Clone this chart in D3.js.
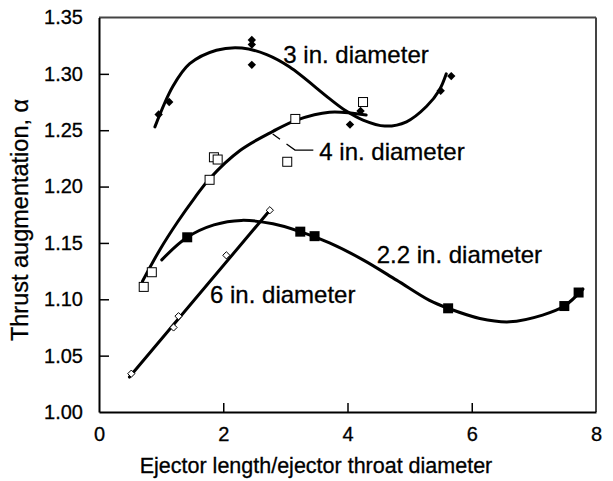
<!DOCTYPE html>
<html>
<head>
<meta charset="utf-8">
<script src="https://cdn.jsdelivr.net/npm/d3@7"></script>
<style>
  html, body { margin: 0; padding: 0; background: #fff; }
  svg { display: block; font-family: "Liberation Sans", Arial, Helvetica, sans-serif; }
  text { fill: #000; stroke: #000; stroke-width: 0.3px; }
</style>
</head>
<body>
<svg id="chart" width="613" height="481"></svg>
<script>
// Axis ticks
const xTicks = [0, 2, 4, 6, 8];
const yTicks = [1.00, 1.05, 1.10, 1.15, 1.20, 1.25, 1.30, 1.35];

// Measured points per ejector diameter: [L/D, alpha]
const pts3in  = [[0.96,1.264],[1.13,1.275],[2.46,1.330],[2.46,1.326],[2.46,1.308],[4.04,1.255],[4.21,1.267],[5.50,1.285],[5.67,1.298]];
const pts4in  = [[0.72,1.111],[0.85,1.124],[1.78,1.206],[1.85,1.226],[1.91,1.224],[3.03,1.222],[3.16,1.260],[4.25,1.275]];
const pts22in = [[1.42,1.155],[3.24,1.160],[3.47,1.156],[5.62,1.092],[7.49,1.094],[7.72,1.106]];
const pts6in  = [[0.52,1.034],[1.20,1.075],[1.28,1.085],[2.05,1.139],[2.75,1.179]];

// Faired curves through each data set
const fit3in  = [[0.90,1.253],[1.19,1.289],[1.46,1.309],[1.89,1.321],[2.30,1.323],[2.70,1.317],[3.07,1.306],[3.71,1.278],[3.98,1.267],[4.25,1.259],[4.60,1.2537],[4.95,1.2575],[5.27,1.271],[5.48,1.2857],[5.59,1.300]];
const fit4in  = [[0.70,1.116],[0.98,1.144],[1.27,1.169],[1.54,1.190],[1.78,1.207],[2.27,1.232],[2.80,1.249],[3.18,1.259],[3.71,1.266],[4.30,1.2635]];
const fit22in = [[1.01,1.135],[1.42,1.155],[1.85,1.166],[2.29,1.170],[2.80,1.167],[3.24,1.160],[3.71,1.150],[4.25,1.135],[4.79,1.117],[5.32,1.099],[5.62,1.092],[6.13,1.083],[6.61,1.080],[7.14,1.086],[7.49,1.094],[7.79,1.109]];
const fit6in  = [[0.49,1.031],[2.75,1.179]];

// Curve labels: [text, x, y (baseline)]
const labels = [
  ["3 in. diameter", 2.967, 1.3099],
  ["4 in. diameter", 3.546, 1.2236],
  ["2.2 in. diameter", 4.470, 1.1319],
  ["6 in. diameter", 1.787, 1.0964]
];
// Leader from the 4 in. label to its curve
const leader4in = [[2.796,1.2466],[3.155,1.2324],[3.45,1.2324]];

const svg = d3.select("#chart");
const plotLeft = 99, plotRight = 596, plotTop = 17.5, plotBottom = 412;

const x = d3.scaleLinear().domain([0, 8]).range([plotLeft, plotRight]);
const y = d3.scaleLinear().domain([1.0, 1.35]).range([plotBottom, plotTop]);

// Frame: top and right edges
svg.append("line").attr("x1", plotLeft).attr("x2", plotRight).attr("y1", plotTop).attr("y2", plotTop)
  .attr("stroke", "#444").attr("stroke-width", 2);
svg.append("line").attr("x1", plotRight).attr("x2", plotRight).attr("y1", plotTop).attr("y2", plotBottom)
  .attr("stroke", "#444").attr("stroke-width", 2);

// Left axis with inward ticks
const yAxis = d3.axisLeft(y).tickValues(yTicks).tickFormat(d3.format(".2f")).tickSizeInner(-10).tickSizeOuter(0).tickPadding(16);
const gy = svg.append("g").attr("transform", `translate(${plotLeft},0)`).call(yAxis);
gy.select(".domain").attr("stroke", "#000").attr("stroke-width", 2);
gy.selectAll(".tick line").attr("stroke", "#000").attr("stroke-width", 1.5)
  .filter(d => d === 1.0 || d === 1.35).remove();
gy.selectAll(".tick text").attr("font-size", 20).attr("font-family", null);

// Bottom axis with inward ticks
const xAxis = d3.axisBottom(x).tickValues(xTicks).tickSizeInner(-9).tickSizeOuter(0).tickPadding(15);
const gx = svg.append("g").attr("transform", `translate(0,${plotBottom})`).call(xAxis);
gx.select(".domain").attr("stroke", "#000").attr("stroke-width", 2);
gx.selectAll(".tick line").attr("stroke", "#000").attr("stroke-width", 1.5)
  .filter(d => d === 0 || d === 8).remove();
gx.selectAll(".tick text").attr("font-size", 20).attr("font-family", null);

// Axis titles
svg.append("text").attr("x", 316).attr("y", 473)
  .attr("text-anchor", "middle").attr("font-size", 21.5)
  .text("Ejector length/ejector throat diameter");
svg.append("text").attr("transform", `translate(28,220) rotate(-90)`)
  .attr("text-anchor", "middle").attr("font-size", 23.5)
  .text("Thrust augmentation, α");

// Curves
const curveLine = d3.line().x(d => x(d[0])).y(d => y(d[1])).curve(d3.curveCatmullRom.alpha(0.5));
const straight = d3.line().x(d => x(d[0])).y(d => y(d[1]));
[fit3in, fit4in, fit22in].forEach(f => {
  svg.append("path").attr("d", curveLine(f)).attr("fill", "none")
    .attr("stroke", "#000").attr("stroke-width", 3).attr("stroke-linecap", "round");
});
svg.append("path").attr("d", straight(fit6in)).attr("fill", "none")
  .attr("stroke", "#000").attr("stroke-width", 3).attr("stroke-linecap", "round");

// Leader line
svg.append("path").attr("d", straight(leader4in)).attr("fill", "none")
  .attr("stroke", "#000").attr("stroke-width", 1.3).attr("stroke-dasharray", "9,8,300");

// Markers
const diamond = s => `M0,${-s}L${s},0L0,${s}L${-s},0Z`;
svg.append("g").selectAll("path").data(pts3in).join("path")
  .attr("transform", d => `translate(${x(d[0])},${y(d[1])})`)
  .attr("d", diamond(4.2)).attr("fill", "#000");
svg.append("g").selectAll("rect").data(pts4in).join("rect")
  .attr("x", d => x(d[0]) - 4.5).attr("y", d => y(d[1]) - 4.5)
  .attr("width", 9).attr("height", 9)
  .attr("fill", "#fff").attr("stroke", "#000").attr("stroke-width", 1);
svg.append("g").selectAll("rect").data(pts22in).join("rect")
  .attr("x", d => x(d[0]) - 5).attr("y", d => y(d[1]) - 5)
  .attr("width", 10).attr("height", 10).attr("fill", "#000");
svg.append("g").selectAll("path").data(pts6in).join("path")
  .attr("transform", d => `translate(${x(d[0])},${y(d[1])})`)
  .attr("d", diamond(3.6)).attr("fill", "#fff").attr("stroke", "#000").attr("stroke-width", 1);

// Curve labels
svg.append("g").selectAll("text").data(labels).join("text")
  .attr("x", d => x(d[1])).attr("y", d => y(d[2]))
  .attr("font-size", 24)
  .text(d => d[0]);
</script>
</body>
</html>
